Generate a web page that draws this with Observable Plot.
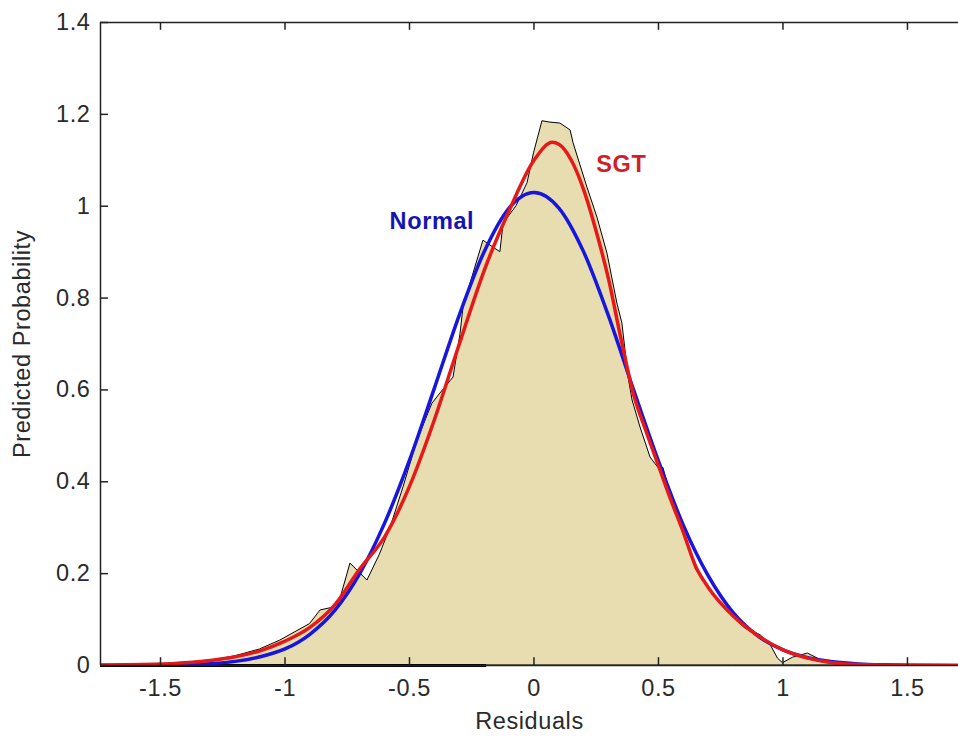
<!DOCTYPE html>
<html><head><meta charset="utf-8">
<script src="https://cdn.jsdelivr.net/npm/d3@7"></script>
<script src="https://cdn.jsdelivr.net/npm/@observablehq/plot@0.6"></script>
<style>
html,body{margin:0;padding:0;background:#fff;overflow:hidden}
#chart svg{display:block}
</style></head><body><div id="chart"></div>
<script>
// ---- data ----
const xTicks = [-1.5, -1, -0.5, 0, 0.5, 1, 1.5];
const yTicks = [0, 0.2, 0.4, 0.6, 0.8, 1, 1.2, 1.4];
const xDomain = [-1.741, 1.705];
const yDomain = [0, 1.4];

// empirical density outline (filled)
const histX = [-1.75,-1.5,-1.3,-1.2,-1.1,-1.02,-0.95,-0.9,-0.857,-0.805,-0.78,-0.737,-0.669,-0.62,-0.576,-0.524,-0.468,-0.408,-0.376,-0.323,-0.295,-0.283,-0.243,-0.203,-0.163,-0.135,-0.122,-0.07,-0.026,0,0.034,0.066,0.106,0.147,0.159,0.215,0.255,0.295,0.335,0.355,0.38,0.396,0.428,0.468,0.5,0.52,0.55,0.6,0.65,0.7,0.75,0.8,0.85,0.91,0.95,0.98,1.0,1.04,1.1,1.14,1.19,1.25,1.75];
const histY = [0,0.003,0.01,0.02,0.035,0.054,0.075,0.09,0.12,0.126,0.14,0.222,0.185,0.24,0.30,0.388,0.49,0.57,0.592,0.627,0.722,0.78,0.853,0.925,0.91,0.90,0.962,1.0,1.05,1.115,1.185,1.182,1.18,1.165,1.137,1.04,0.975,0.897,0.788,0.745,0.627,0.577,0.518,0.453,0.43,0.43,0.37,0.29,0.21,0.17,0.135,0.105,0.08,0.066,0.045,0.015,0.005,0.017,0.026,0.015,0.004,0,0];

// fitted Normal density
const normalX = [-1.75,-1.5,-1.4,-1.3,-1.2,-1.1,-1.0,-0.9,-0.8,-0.7,-0.6,-0.5,-0.4,-0.3,-0.2,-0.1,0,0.1,0.2,0.3,0.4,0.5,0.6,0.7,0.8,0.9,1.0,1.1,1.2,1.3,1.4,1.5,1.75];
const normalY = [0,0.0005,0.0015,0.004,0.009,0.019,0.036,0.068,0.12,0.2,0.31,0.447,0.604,0.763,0.901,0.996,1.03,0.996,0.90,0.76,0.60,0.445,0.305,0.195,0.115,0.064,0.034,0.017,0.008,0.0035,0.0014,0.0005,0];

// fitted SGT density
const sgtX = [-1.75,-1.5,-1.4,-1.3,-1.2,-1.1,-1.0,-0.9,-0.8,-0.7,-0.6,-0.5,-0.4,-0.3,-0.2,-0.1,0,0.074,0.1,0.15,0.2,0.25,0.3,0.35,0.4,0.45,0.5,0.55,0.6,0.65,0.7,0.8,0.9,1.0,1.1,1.2,1.3,1.5,1.75];
const sgtY = [0.001,0.003,0.006,0.011,0.019,0.032,0.053,0.083,0.132,0.21,0.28,0.39,0.535,0.70,0.86,0.99,1.10,1.139,1.135,1.10,1.035,0.945,0.84,0.71,0.59,0.51,0.435,0.36,0.29,0.215,0.17,0.108,0.065,0.034,0.016,0.006,0.002,0.0005,0];

// thick black segment on the baseline
const baseSegment = [-1.741, -0.19];

const labelText = ["Normal", "SGT"];
const labelX = [-0.41, 0.351];
const labelY = [0.967, 1.091];
const labelColor = ["#1414b4", "#d21e28"];

// ---- build tables ----
const hist = histX.map((x, i) => ({x, y: histY[i]}));
const normal = normalX.map((x, i) => ({x, y: normalY[i]}));
const sgt = sgtX.map((x, i) => ({x, y: sgtY[i]}));
const labels = labelText.map((t, i) => ({t, x: labelX[i], y: labelY[i], c: labelColor[i]}));

const fmt = d => String(d);

const chart = Plot.plot({
  width: 958,
  height: 736,
  marginLeft: 100,
  marginRight: 0,
  marginTop: 22,
  marginBottom: 71,
  x: {domain: xDomain},
  y: {domain: yDomain},
  style: {fontFamily: "'Liberation Sans', Arial, sans-serif", fontSize: "23.5px", letterSpacing: "0.6px", background: "white", color: "#2a2a2a"},
  marks: [
    Plot.areaY(hist, {x: "x", y: "y", fill: "#e8ddb0", stroke: "black", strokeWidth: 1, clip: true}),
    Plot.ruleY([0], {x1: baseSegment[0], x2: baseSegment[1], stroke: "black", strokeWidth: 3}),
    Plot.line(normal, {x: "x", y: "y", stroke: "#1616dc", strokeWidth: 3.5, curve: "monotone-x", clip: true}),
    Plot.line(sgt, {x: "x", y: "y", stroke: "#e61818", strokeWidth: 3.5, curve: "monotone-x", clip: true}),
    // box
    Plot.ruleY([yDomain[0]], {stroke: "#222", strokeWidth: 1.5}),
    Plot.ruleY([yDomain[1]], {stroke: "#222", strokeWidth: 1.5}),
    Plot.ruleX([xDomain[0]], {stroke: "#222", strokeWidth: 1.5}),
    // inward ticks
    Plot.ruleX(xTicks, {y1: yDomain[0], y2: yDomain[0] + 0.017, stroke: "#222", strokeWidth: 1.5}),
    Plot.ruleX(xTicks, {y1: yDomain[1], y2: yDomain[1] - 0.017, stroke: "#222", strokeWidth: 1.5}),
    Plot.ruleY(yTicks, {x1: xDomain[0], x2: xDomain[0] + 0.032, stroke: "#222", strokeWidth: 1.5}),
    Plot.axisX({ticks: xTicks, tickSize: 0, tickPadding: 14, tickFormat: fmt, label: null}),
    Plot.axisY({ticks: yTicks, tickSize: 0, tickPadding: 10, tickFormat: fmt, label: null}),
    Plot.text(["Residuals"], {text: d => d, frameAnchor: "bottom", lineAnchor: "middle", dy: 55.5, fill: "#2a2a2a"}),
    Plot.text(["Predicted Probability"], {text: d => d, frameAnchor: "left", textAnchor: "middle", lineAnchor: "middle", dx: -78, rotate: -90, fill: "#2a2a2a"}),
    Plot.text(labels, {x: "x", y: "y", text: "t", fill: "c", fontWeight: "bold", fontSize: 23.5, letterSpacing: "0.3px"})
  ]
});
document.getElementById("chart").append(chart);
</script>
</body></html>
